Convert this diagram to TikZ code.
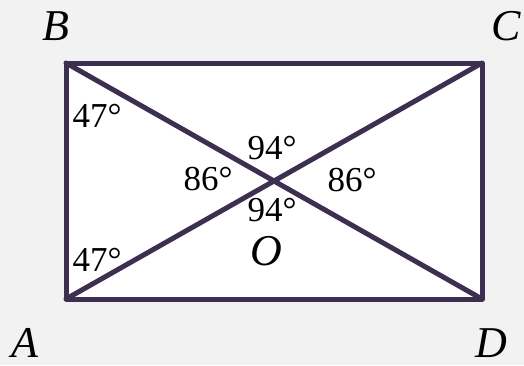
\documentclass[tikz,border=0pt]{standalone}
\usepackage{fontspec}
\setmainfont{Liberation Serif}
\definecolor{bgc}{HTML}{F2F2F2}
\definecolor{linec}{HTML}{3D2F50}
\begin{document}
\begin{tikzpicture}[x=1pt,y=-1pt,
  edge/.style={draw=linec,line width=5pt,line join=round,line cap=round},
  num/.style={inner sep=0pt,font=\fontsize{35}{35}\selectfont},
  pt/.style={inner sep=0pt,font=\fontsize{44}{44}\selectfont\itshape}]
\fill[bgc] (0,0) rectangle (524,365);
\useasboundingbox (0,0) rectangle (524,365);
\coordinate (A) at (66,299);
\coordinate (B) at (66,63);
\coordinate (C) at (482,63);
\coordinate (D) at (482,299);
\fill[white] (A) rectangle (C);
\draw[edge] (A) -- (B) -- (C) -- (D) -- cycle;
\draw[edge] (A) -- (C);
\draw[edge] (B) -- (D);
\node[pt] (lB) at (56,26) {B};
\node[pt] (lC) at (506,26) {C};
\node[pt] (lA) at (25,343) {A};
\node[pt] (lD) at (491,343) {D};
\node[pt] (lO) at (266,251) {O};
\node[num] (a1) at (97,116) {47°};
\node[num] (a2) at (97,260) {47°};
\node[num] (a3) at (272,148) {94°};
\node[num] (a4) at (272,210) {94°};
\node[num] (a5) at (208,179) {86°};
\node[num] (a6) at (352,180) {86°};
\end{tikzpicture}
\end{document}
